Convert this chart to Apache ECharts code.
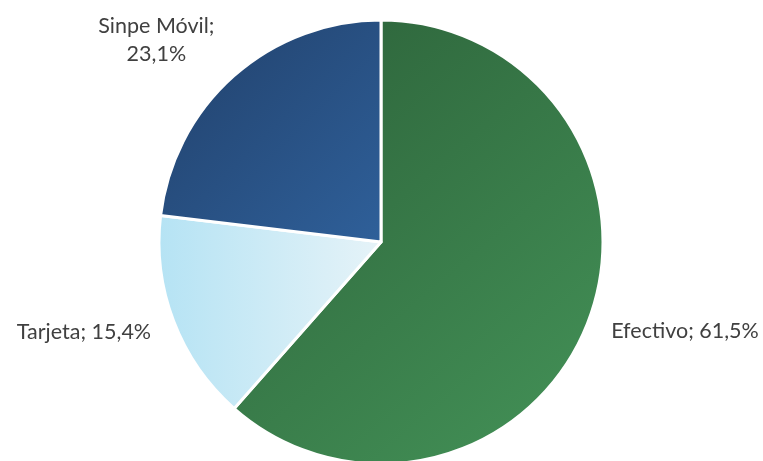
<!DOCTYPE html>
<html><head><meta charset="utf-8">
<script src="https://cdn.jsdelivr.net/npm/echarts@6/dist/echarts.min.js"></script>
<style>html,body{margin:0;padding:0;background:#fff}#c{width:763px;height:461px}</style>
</head><body><div id="c"></div>
<script>
const categories = ['Efectivo', 'Tarjeta', 'Sinpe Móvil'];
const values = [61.5, 15.4, 23.1];
const gradients = [
  ['#2C6139', '#449358', 0, 0, 1, 1],
  ['#B5E3F4', '#E6F3F8', 0, 0, 1, 0],
  ['#21406A', '#2F609A', 0, 0, 1, 1]
];
const chart = echarts.init(document.getElementById('c'));
const data = categories.map((n, i) => ({
  name: n,
  value: values[i],
  itemStyle: {
    color: new echarts.graphic.LinearGradient(gradients[i][2], gradients[i][3], gradients[i][4], gradients[i][5], [
      {offset: 0, color: gradients[i][0]}, {offset: 1, color: gradients[i][1]}
    ])
  }
}));
chart.setOption({
  animation: false,
  series: [{
    type: 'pie',
    center: [381, 242],
    radius: 222,
    startAngle: 90,
    clockwise: true,
    data: data,
    itemStyle: {borderColor: '#fff', borderWidth: 3},
    label: {
      show: true,
      position: 'outside',
      overflow: 'none',
      fontFamily: 'Lato',
      fontSize: 21.5,
      color: '#404040',
      lineHeight: 28,
      formatter: p => p.dataIndex === 2
        ? p.name + ';\n' + p.value.toFixed(1).replace('.', ',') + '%'
        : p.name + '; ' + p.value.toFixed(1).replace('.', ',') + '%'
    },
    labelLine: {show: false, length: 8, length2: 10},
    labelLayout: function (p) {
      if (p.dataIndex === 2) return {dx: -57, dy: -30, align: 'center'};
      return {dy: 8};
    }
  }]
});
</script></body></html>
